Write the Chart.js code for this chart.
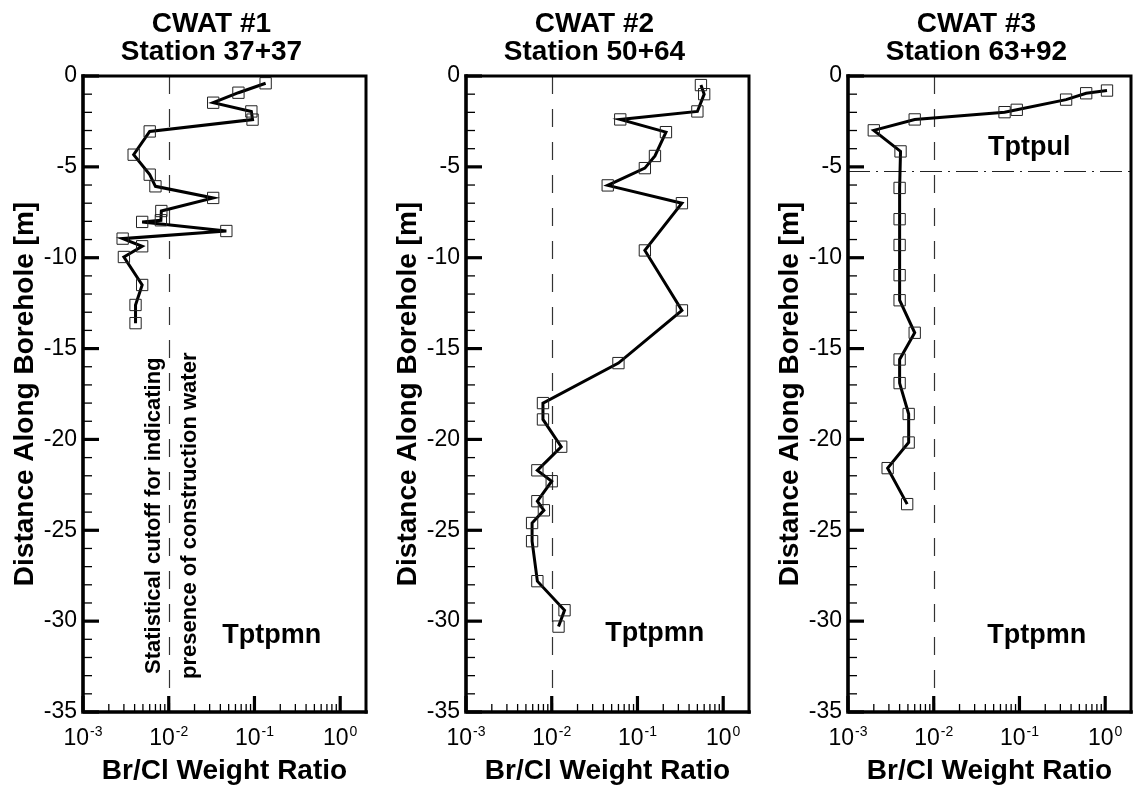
<!DOCTYPE html>
<html>
<head>
<meta charset="utf-8">
<title>Br/Cl Weight Ratio - CWAT boreholes</title>
<script src="https://cdn.jsdelivr.net/npm/chart.js@4.4.1/dist/chart.umd.min.js"></script>
<style>
  html, body { margin: 0; padding: 0; background: #fff; }
  #wrap { position: relative; width: 1140px; height: 794px; }
  .panel { position: absolute; top: 0; width: 375px; height: 794px; }
</style>
</head>
<body>
<div id="wrap">
  <div class="panel" style="left:0"><canvas id="cwat1"></canvas></div>
  <div class="panel" style="left:383px"><canvas id="cwat2"></canvas></div>
  <div class="panel" style="left:765px"><canvas id="cwat3"></canvas></div>
</div>
<script>
// Br/Cl ratio per sample and its depth along the borehole [m]
const cwat1Ratio = [0.135, 0.065, 0.033, 0.092, 0.095, 0.006, 0.0039, 0.006, 0.007, 0.033,
                    0.0082, 0.0081, 0.0049, 0.047, 0.0029, 0.0049, 0.003, 0.0049, 0.0041, 0.0041];
const cwat1Depth = [-0.4, -0.92, -1.47, -1.95, -2.4, -3.05, -4.33, -5.43, -6.07, -6.71,
                    -7.43, -7.94, -8.03, -8.53, -8.95, -9.37, -9.96, -11.5, -12.6, -13.6];

const cwat2Ratio = [0.55, 0.6, 0.5, 0.063, 0.215, 0.16, 0.122, 0.045, 0.33, 0.122, 0.33, 0.06,
                    0.0079, 0.0079, 0.0129, 0.0068, 0.01, 0.0068, 0.0081, 0.0059, 0.0059, 0.0068, 0.0141, 0.012];
const cwat2Depth = [-0.5, -1.0, -1.95, -2.39, -3.09, -4.4, -5.07, -6.02, -7.0, -9.6, -12.9, -15.8,
                    -18.0, -18.9, -20.4, -21.7, -22.3, -23.4, -23.9, -24.6, -25.6, -27.8, -29.4, -30.3];

const cwat3Ratio = [1.05, 0.6, 0.35, 0.093, 0.067, 0.006, 0.002, 0.0041, 0.004, 0.004,
                    0.004, 0.004, 0.004, 0.006, 0.004, 0.004, 0.0051, 0.0051, 0.0029, 0.0049];
const cwat3Depth = [-0.8, -0.95, -1.3, -1.86, -1.99, -2.39, -2.99, -4.15, -6.16, -7.88,
                    -9.3, -10.96, -12.34, -14.13, -15.6, -16.9, -18.6, -20.17, -21.58, -23.56];

const cutoffRatio = 0.01;     // construction water cutoff
const cwat3Contact = -5.25;   // Tptpul / Tptpmn contact in CWAT #3

const xDecades = [0.001, 0.01, 0.1, 1];
const xExponents = ['-3', '-2', '-1', '0'];

const panelTitles = ['CWAT #1', 'CWAT #2', 'CWAT #3'];
const panelStations = ['Station 37+37', 'Station 50+64', 'Station 63+92'];
const cutoffNote = ['Statistical cutoff for indicating', 'presence of construction water'];

const FONT = '"Liberation Sans", Arial, Helvetica, sans-serif';
Chart.defaults.font.family = FONT;
Chart.defaults.color = '#000';

// unit labels: [text, ratio, depth]
const unitLabels = [
  [['Tptpmn', 0.042, -31.2]],
  [['Tptpmn', 0.042, -31.1]],
  [['Tptpul', 0.043, -4.37], ['Tptpmn', 0.042, -31.2]]
];

// frame, inward ticks, decade labels, reference lines and notes
const boreholeDecor = {
  id: 'boreholeDecor',
  beforeDatasetsDraw(chart, args, opts) {
    const {ctx, chartArea: a, scales: {x, y}} = chart;
    ctx.save();
    ctx.strokeStyle = '#333';
    ctx.lineWidth = 1.2;
    ctx.setLineDash([18, 15]);
    const cx = Math.round(x.getPixelForValue(cutoffRatio)) + 0.5;
    ctx.beginPath();
    ctx.moveTo(cx, a.top);
    ctx.lineTo(cx, a.bottom);
    ctx.stroke();
    if (opts.contact != null) {
      ctx.lineWidth = 1;
      ctx.strokeStyle = '#222';
      ctx.setLineDash([22, 6, 2, 6]);
      const cy = Math.round(y.getPixelForValue(opts.contact)) + 0.5;
      ctx.beginPath();
      ctx.moveTo(a.left, cy);
      ctx.lineTo(a.right, cy);
      ctx.stroke();
    }
    ctx.restore();
  },
  afterDraw(chart, args, opts) {
    const {ctx, chartArea: a, scales: {x, y}} = chart;
    ctx.save();
    ctx.strokeStyle = '#000';
    ctx.fillStyle = '#000';
    ctx.lineCap = 'butt';

    // depth ticks on the left axis
    for (let d = 0; d >= -35; d--) {
      const py = y.getPixelForValue(d);
      const major = d % 5 === 0;
      ctx.lineWidth = major ? 3.2 : 1.3;
      ctx.beginPath();
      ctx.moveTo(a.left, py);
      ctx.lineTo(a.left + (major ? 16 : 9), py);
      ctx.stroke();
    }
    // log ticks on the bottom axis
    xDecades.forEach(dec => {
      for (let k = 1; k <= 9; k++) {
        const v = dec * k;
        if (v > x.max) break;
        const px = x.getPixelForValue(v);
        ctx.lineWidth = k === 1 ? 3.2 : 1.3;
        ctx.beginPath();
        ctx.moveTo(px, a.bottom);
        ctx.lineTo(px, a.bottom - (k === 1 ? 16 : 8));
        ctx.stroke();
      }
    });

    // frame
    ctx.lineCap = 'square';
    ctx.lineWidth = 3;
    ctx.beginPath();
    ctx.moveTo(a.left, a.top);
    ctx.lineTo(a.right, a.top);
    ctx.lineTo(a.right, a.bottom);
    ctx.stroke();
    ctx.lineWidth = 3.6;
    ctx.beginPath();
    ctx.moveTo(a.left, a.top);
    ctx.lineTo(a.left, a.bottom);
    ctx.lineTo(a.right, a.bottom);
    ctx.stroke();

    // decade labels 10^n
    ctx.textBaseline = 'alphabetic';
    ctx.textAlign = 'left';
    xDecades.forEach((v, i) => {
      const px = x.getPixelForValue(v);
      ctx.font = `23px ${FONT}`;
      const wBase = ctx.measureText('10').width;
      ctx.font = `14px ${FONT}`;
      const wExp = ctx.measureText(xExponents[i]).width;
      const left = px - (wBase + wExp + 1) / 2;
      ctx.font = `23px ${FONT}`;
      ctx.fillText('10', left, a.bottom + 33);
      ctx.font = `14px ${FONT}`;
      ctx.fillText(xExponents[i], left + wBase + 1, a.bottom + 24);
    });

    // panel title
    const mid = (a.left + a.right) / 2 - 13;
    ctx.textAlign = 'center';
    ctx.font = `bold 28px ${FONT}`;
    ctx.fillText(panelTitles[opts.index], mid, 32);
    ctx.fillText(panelStations[opts.index], mid, 60);

    // hydrogeologic unit names
    ctx.textAlign = 'left';
    ctx.font = `bold 27px ${FONT}`;
    unitLabels[opts.index].forEach(([txt, r, d]) => {
      ctx.fillText(txt, x.getPixelForValue(r), y.getPixelForValue(d));
    });

    // cutoff note beside the dashed line
    if (opts.note) {
      const cx = x.getPixelForValue(cutoffRatio);
      const cy = y.getPixelForValue(-24.2);
      ctx.font = `bold 22px ${FONT}`;
      ctx.textAlign = 'center';
      ctx.textBaseline = 'middle';
      [-15, 21].forEach((dx, i) => {
        ctx.save();
        ctx.translate(cx + dx, cy);
        ctx.rotate(-Math.PI / 2);
        ctx.fillText(cutoffNote[i], 0, 0);
        ctx.restore();
      });
    }
    ctx.restore();
  }
};

function drawPanel(id, idx, ratio, depth, extra) {
  const points = ratio.map((r, i) => ({x: r, y: depth[i]}));
  return new Chart(document.getElementById(id), {
    type: 'line',
    data: {
      datasets: [{
        data: points,
        borderColor: '#000',
        borderWidth: 3,
        tension: 0,
        pointStyle: 'rect',
        pointRadius: 8,
        pointBorderWidth: 1,
        pointBorderColor: '#222',
        pointBackgroundColor: 'rgba(0,0,0,0)'
      }]
    },
    options: {
      responsive: true,
      maintainAspectRatio: false,
      devicePixelRatio: 1,
      animation: false,
      events: [],
      layout: { padding: { top: 76, right: 5, bottom: 0, left: 0 } },
      scales: {
        x: {
          type: 'logarithmic',
          min: 0.001,
          max: 2,
          grid: { display: false },
          border: { display: false },
          ticks: { display: false },
          title: {
            display: true,
            text: 'Br/Cl Weight Ratio',
            font: { size: 28, weight: 'bold' },
            padding: { top: 4, bottom: 6 }
          },
          afterFit: s => { s.height = 82; }
        },
        y: {
          min: -35,
          max: 0,
          grid: { display: false, drawTicks: false },
          border: { display: false },
          ticks: { stepSize: 5, padding: 6, font: { size: 23 } },
          title: {
            display: true,
            text: 'Distance Along Borehole [m]',
            font: { size: 28, weight: 'bold' },
            padding: 8
          },
          afterFit: s => { s.width = 83; }
        }
      },
      plugins: {
        legend: { display: false },
        tooltip: { enabled: false },
        boreholeDecor: Object.assign({ index: idx }, extra)
      }
    },
    plugins: [boreholeDecor]
  });
}

drawPanel('cwat1', 0, cwat1Ratio, cwat1Depth, { note: true });
drawPanel('cwat2', 1, cwat2Ratio, cwat2Depth, {});
drawPanel('cwat3', 2, cwat3Ratio, cwat3Depth, { contact: cwat3Contact });
</script>
</body>
</html>
